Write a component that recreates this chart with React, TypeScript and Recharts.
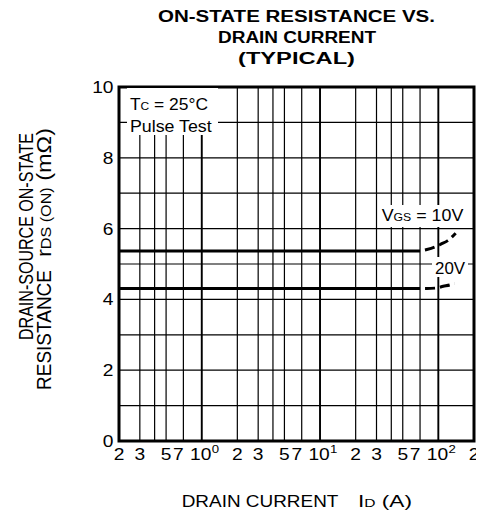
import React from "react";
import {
  LineChart,
  Line,
  XAxis,
  YAxis,
  CartesianGrid,
  ReferenceArea,
  ReferenceLine,
} from "recharts";

// ---- data ----
const xGridTicks = [0.2, 0.3, 0.4, 0.5, 0.7, 1, 2, 3, 4, 5, 7, 10, 20, 30, 40, 50, 70, 100, 200];
const xLabelMap: Record<string, string> = {
  "0.2": "2", "0.3": "3", "0.5": "5", "0.7": "7",
  "2": "2", "3": "3", "5": "5", "7": "7",
  "20": "2", "30": "3", "50": "5", "70": "7", "200": "2",
};
const decadeExp: Record<string, string> = { "1": "0", "10": "1", "100": "2" };
const decades = [1, 10, 100];
const yTicks = [0, 1, 2, 3, 4, 5, 6, 7, 8, 9, 10];
const yLabelTicks = [0, 2, 4, 6, 8, 10];

const vgs10Solid = [
  { x: 0.2, y: 5.37 },
  { x: 70, y: 5.37 },
];
const vgs10Dashed = [
  { x: 70, y: 5.37 },
  { x: 80, y: 5.41 },
  { x: 95, y: 5.49 },
  { x: 105, y: 5.56 },
  { x: 120, y: 5.66 },
  { x: 140, y: 5.87 },
];
const vgs20Solid = [
  { x: 0.2, y: 4.31 },
  { x: 70, y: 4.31 },
];
const vgs20Dashed = [
  { x: 70, y: 4.31 },
  { x: 80, y: 4.31 },
  { x: 95, y: 4.32 },
  { x: 110, y: 4.37 },
  { x: 125, y: 4.41 },
  { x: 137, y: 4.45 },
];

const FONT = "'Liberation Sans', Arial, Helvetica, sans-serif";
const W = 476;
const H = 503;

function XTick(props: any) {
  const { x, y, payload } = props;
  const v = payload.value;
  const key = String(v);
  const by = y + 11;
  if (decadeExp[key] !== undefined) {
    return (
      <g>
        <text transform={`translate(${x - 1} ${by}) scale(1.2 1)`} textAnchor="middle" fontSize={16} fontFamily={FONT} fill="#000">10</text>
        <text transform={`translate(${x + 10} ${by - 7}) scale(1.2 1)`} textAnchor="start" fontSize={11} fontFamily={FONT} fill="#000">{decadeExp[key]}</text>
      </g>
    );
  }
  const lbl = xLabelMap[key];
  if (!lbl) return <g />;
  const dx = lbl === "7" ? -5 : 0;
  return (
    <text transform={`translate(${x + dx} ${by}) scale(1.2 1)`} textAnchor="middle" fontSize={16} fontFamily={FONT} fill="#000">{lbl}</text>
  );
}

function YTick(props: any) {
  const { x, y, payload } = props;
  if (!yLabelTicks.includes(payload.value)) return <g />;
  return (
    <text transform={`translate(${x + 2.5} ${y + 6}) scale(1.2 1)`} textAnchor="end" fontSize={16} fontFamily={FONT} fill="#000">{payload.value}</text>
  );
}

export default function App() {
  return (
    <div style={{ position: "relative", width: W, height: H }}>
      <LineChart width={W} height={H} margin={{ top: 79, right: 10, bottom: 40, left: 71 }}>
        <CartesianGrid stroke="#000" strokeWidth={1.2} />
        <XAxis
          dataKey="x"
          type="number"
          scale="log"
          domain={[0.2, 200]}
          ticks={xGridTicks}
          interval={0}
          allowDataOverflow
          axisLine={false}
          tickLine={false}
          tick={<XTick />}
          height={30}
        />
        <YAxis
          type="number"
          domain={[0, 10]}
          ticks={yTicks}
          interval={0}
          axisLine={false}
          tickLine={false}
          tick={<YTick />}
          width={40}
        />
        {decades.map((d) => (
          <ReferenceLine key={d} x={d} stroke="#000" strokeWidth={1.8} />
        ))}
        <ReferenceArea x1={0.2} x2={200} y1={0} y2={10} fill="none" fillOpacity={0} stroke="#000" strokeWidth={3} />
        <Line data={vgs10Solid} dataKey="y" stroke="#000" strokeWidth={3} dot={false} isAnimationActive={false} type="linear" />
        <Line data={vgs10Dashed} dataKey="y" stroke="#000" strokeWidth={3} dot={false} isAnimationActive={false} type="monotone" strokeDasharray="10 5" strokeDashoffset={10} />
        <Line data={vgs20Solid} dataKey="y" stroke="#000" strokeWidth={3} dot={false} isAnimationActive={false} type="linear" />
        <Line data={vgs20Dashed} dataKey="y" stroke="#000" strokeWidth={3} dot={false} isAnimationActive={false} type="monotone" strokeDasharray="10 5" strokeDashoffset={10} />
      </LineChart>
      <svg width={W} height={H} style={{ position: "absolute", left: 0, top: 0, pointerEvents: "none" }} fontFamily={FONT}>
        {/* title */}
        <text x={288.5} y={13.5} textAnchor="middle" fontSize={16} fontWeight="bold" textLength={277} lengthAdjust="spacingAndGlyphs">ON-STATE RESISTANCE VS.</text>
        <text x={289} y={35} textAnchor="middle" fontSize={16} fontWeight="bold" textLength={158} lengthAdjust="spacingAndGlyphs">DRAIN CURRENT</text>
        <text x={288.5} y={56} textAnchor="middle" fontSize={16} fontWeight="bold" textLength={117} lengthAdjust="spacingAndGlyphs">(TYPICAL)</text>
        {/* y label */}
        <text transform="translate(25 332) rotate(-90) scale(1 1.25)" fontSize={16} textLength={207} lengthAdjust="spacingAndGlyphs">DRAIN-SOURCE ON-STATE</text>
        <text transform="translate(43 382) rotate(-90) scale(1 1.25)" fontSize={16} textLength={120} lengthAdjust="spacingAndGlyphs">RESISTANCE</text>
        <text transform="translate(43 249) rotate(-90) scale(1 1.25)" fontSize={16} textLength={129} lengthAdjust="spacingAndGlyphs">
          r<tspan fontSize={11}>DS (ON)</tspan> (mΩ)
        </text>
        {/* x label */}
        <text x={173.7} y={499} fontSize={16} textLength={156.7} lengthAdjust="spacingAndGlyphs">DRAIN CURRENT</text>
        <text x={350} y={499} fontSize={16} textLength={54} lengthAdjust="spacingAndGlyphs">
          I<tspan fontSize={11}>D</tspan> (A)
        </text>
        {/* annotations */}
        <rect x={119} y={80} width={91} height={47} fill="#fff" />
        <text x={122} y={102} fontSize={16} textLength={78} lengthAdjust="spacingAndGlyphs">
          T<tspan fontSize={11}>C</tspan> = 25°C
        </text>
        <text x={122} y={123.7} fontSize={16} textLength={81.7} lengthAdjust="spacingAndGlyphs">Pulse Test</text>
        <rect x={370} y={197} width={90} height={22} fill="#fff" />
        <text x={373.7} y={212.7} fontSize={16} textLength={81.6} lengthAdjust="spacingAndGlyphs">
          V<tspan fontSize={11}>GS</tspan> = 10V
        </text>
        <rect x={424} y={249} width={36} height={20} fill="#fff" />
        <text x={427} y={266} fontSize={16} textLength={30} lengthAdjust="spacingAndGlyphs">20V</text>
      </svg>
    </div>
  );
}
